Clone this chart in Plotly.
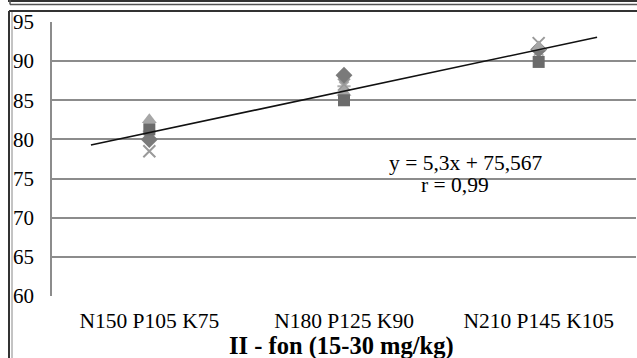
import plotly.graph_objects as go

categories = ["N150 P105 K75", "N180 P125 K90", "N210 P145 K105"]
xpos = [1, 2, 3]
s_diamond = [80.0, 88.2, 91.5]
s_square = [81.3, 85.0, 89.9]
s_triangle = [82.5, 86.0, 91.8]
s_x = [78.5, 87.0, 92.3]
s_star = [81.0, 86.8, 91.3]
slope, intercept = 5.3, 75.567
trend_x = [0.7, 3.3]
y_ticks = [60, 65, 70, 75, 80, 85, 90, 95]

W, H = 637, 358
L, R, T, B = 52, 1, 22, 62
pw, ph = W - L - R, H - T - B

def px(x):
    return (x - L) / pw

def py(y):
    return (H - B - y) / ph

FONT = "Times New Roman, Liberation Serif, serif"
fig = go.Figure()

fig.add_trace(go.Scatter(x=xpos, y=s_star, mode="markers",
                         marker=dict(symbol="asterisk", size=11, color="#b0b0b0", line=dict(width=2, color="#b0b0b0"))))
fig.add_trace(go.Scatter(x=xpos, y=s_x, mode="markers",
                         marker=dict(symbol="x-thin", size=12, color="#9a9a9a", line=dict(width=2, color="#9a9a9a"))))
fig.add_trace(go.Scatter(x=xpos, y=s_diamond, mode="markers",
                         marker=dict(symbol="diamond", size=13, color="#7a7a7a")))
fig.add_trace(go.Scatter(x=xpos, y=s_triangle, mode="markers",
                         marker=dict(symbol="triangle-up", size=13, color="#a6a6a6")))
fig.add_trace(go.Scatter(x=xpos, y=s_square, mode="markers",
                         marker=dict(symbol="square", size=12, color="#6b6b6b")))
fig.add_trace(go.Scatter(x=trend_x, y=[slope * v + intercept for v in trend_x], mode="lines",
                         line=dict(color="#111111", width=1.6)))

shapes = [
    dict(type="line", xref="paper", yref="paper", x0=px(8), x1=px(640), y0=py(1), y1=py(1), line=dict(color="#333", width=2)),
    dict(type="line", xref="paper", yref="paper", x0=px(10), x1=px(640), y0=py(4.5), y1=py(4.5), line=dict(color="#555", width=1.5)),
    dict(type="line", xref="paper", yref="paper", x0=px(10), x1=px(10), y0=py(0), y1=py(4.5), line=dict(color="#555", width=1.5)),
    dict(type="line", xref="paper", yref="paper", x0=px(9), x1=px(640), y0=py(11), y1=py(11), line=dict(color="#333", width=2)),
    dict(type="line", xref="paper", yref="paper", x0=px(9), x1=px(9), y0=py(11), y1=py(360), line=dict(color="#333", width=2)),
    dict(type="line", xref="paper", yref="paper", x0=px(12), x1=px(12), y0=py(12), y1=py(360), line=dict(color="#888", width=1)),
]

annotations = [
    dict(text="y = 5,3x + 75,567", x=px(466), y=py(163), xref="paper", yref="paper", showarrow=False,
         xanchor="center", yanchor="middle", font=dict(family=FONT, size=21.5, color="#000")),
    dict(text="r = 0,99", x=px(455), y=py(185), xref="paper", yref="paper", showarrow=False,
         xanchor="center", yanchor="middle", font=dict(family=FONT, size=21.5, color="#000")),
    dict(text="<b>II - fon (15-30 mg/kg)</b>", x=px(341), y=py(346), xref="paper", yref="paper", showarrow=False,
         xanchor="center", yanchor="middle", font=dict(family=FONT, size=24.5, color="#000")),
]

fig.update_layout(
    width=W, height=H, margin=dict(l=L, r=R, t=T, b=B),
    paper_bgcolor="white", plot_bgcolor="white", showlegend=False,
    font=dict(family=FONT, size=21, color="#000"),
    shapes=shapes, annotations=annotations,
    xaxis=dict(range=[0.5, 3.5], tickvals=xpos, ticktext=categories, showgrid=False, zeroline=False,
               showline=False, ticks="", tickfont=dict(family=FONT, size=21.5), ticklabelstandoff=9),
    yaxis=dict(range=[60, 95], tickvals=y_ticks, showgrid=True, gridcolor="#8c8c8c", gridwidth=1.5,
               zeroline=False, showline=True, linecolor="#8c8c8c", linewidth=1.5, ticks="",
               ticklabelstandoff=12, tickfont=dict(family=FONT, size=21)),
)

fig.write_html("out.html")
